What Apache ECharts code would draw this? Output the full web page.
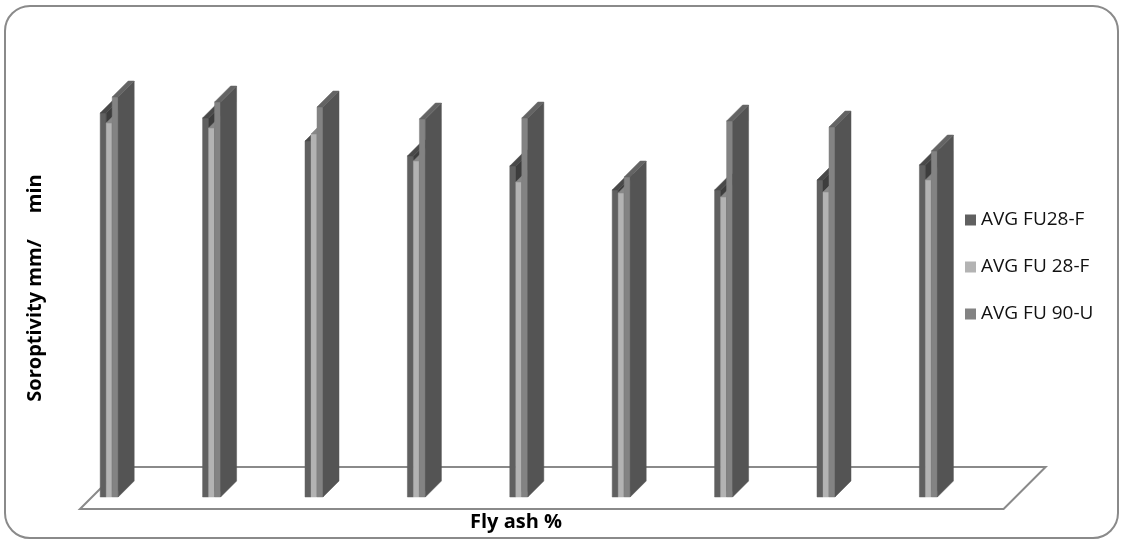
<!DOCTYPE html>
<html>
<head>
<meta charset="utf-8">
<script src="https://cdn.jsdelivr.net/npm/echarts@6/dist/echarts.min.js"></script>
<style>
html,body{margin:0;padding:0;background:#fff;}
#chart{width:1121px;height:543px;}
</style>
</head>
<body>
<div id="chart"></div>
<script>
// 粉煤灰掺量分组（图中无刻度标签）
var categories = ['M1','M2','M3','M4','M5','M6','M7','M8','M9']
var seriesNames = ['AVG FU28-F','AVG FU 28-F','AVG FU 90-U']
var fu28f  = [3.84, 3.79, 3.56, 3.41, 3.31, 3.07, 3.07, 3.17, 3.32]
var fu28f2 = [3.74, 3.69, 3.63, 3.36, 3.15, 3.04, 3.00, 3.05, 3.17]
var fu90u  = [4.00, 3.95, 3.90, 3.78, 3.79, 3.20, 3.76, 3.70, 3.46]
var colors = ['#606060','#b3b3b3','#838383']

var D = 16      // 柱子进深
var W = 6       // 单根柱宽
var font = '"Open Sans", "Noto Sans", sans-serif'

function shade(hex, k){
	var n = parseInt(hex.slice(1),16)
	var r = Math.round((n>>16 & 255)*k), g = Math.round((n>>8 & 255)*k), b = Math.round((n & 255)*k)
	return 'rgb('+r+','+g+','+b+')'
}

function bar3d(idx){
	return function(params, api){
		var base = api.coord([api.value(0), 0])
		var top = api.coord([api.value(0), api.value(1)])
		var x0 = base[0] - 9 + idx*W, x1 = x0 + W
		var yb = base[1], yt = top[1]
		var c = colors[idx]
		return {
			type: 'group',
			children: [
				{type:'polygon', shape:{points:[[x0,yb],[x1,yb],[x1,yt],[x0,yt]]}, style:{fill:c, stroke:c, lineWidth:0.5}},
				{type:'polygon', shape:{points:[[x1,yb],[x1+D,yb-D],[x1+D,yt-D],[x1,yt]]}, style:{fill:shade(c,0.64), stroke:shade(c,0.64), lineWidth:0.5}},
				{type:'polygon', shape:{points:[[x0,yt],[x1,yt],[x1+D,yt-D],[x0+D,yt-D]]}, style:{fill:shade(c,0.76), stroke:shade(c,0.76), lineWidth:0.5}}
			]
		}
	}
}

function toData(arr){
	return arr.map(function(v,i){ return [i, v] })
}

function floor(params, api){ // 底面平行四边形
	var cs = params.coordSys
	var yb = cs.y + cs.height
	var l = cs.x, r = cs.x + cs.width
	return {
		type: 'polygon',
		shape: {points: [[l+22, yb+12],[l+64, yb-30],[r+66, yb-30],[r+24, yb+12]]},
		style: {fill:'#fff', stroke:'#8a8a8a', lineWidth:2}
	}
}

var series = [{
	name: 'floor',
	type: 'custom',
	renderItem: floor,
	data: [[0,0]],
	silent: true,
	z: 1
}]
;[fu28f, fu28f2, fu90u].forEach(function(arr, idx){
	series.push({
		name: seriesNames[idx],
		type: 'custom',
		renderItem: bar3d(idx),
		itemStyle: {color: colors[idx]},
		encode: {x:0, y:1},
		data: toData(arr),
		z: 2
	})
})

var option = {
	animation: false,
	backgroundColor: '#fff',
	grid: {left: 58, width: 921.6, top: 47, height: 450},
	xAxis: {
		type: 'category',
		data: categories,
		show: false
	},
	yAxis: {
		type: 'value',
		min: 0,
		max: 4.5,
		show: false
	},
	legend: {
		data: seriesNames,
		orient: 'vertical',
		left: 960,
		top: 205,
		icon: 'rect',
		itemWidth: 11,
		itemHeight: 11,
		itemGap: 27,
		selectedMode: false,
		textStyle: {fontFamily: font, fontSize: 19, color: '#111', lineHeight: 20}
	},
	graphic: [
		{
			type: 'rect',
			shape: {x:5, y:6, width:1113, height:532, r:25},
			style: {fill:'none', stroke:'#8a8a8a', lineWidth:2},
			z: 0
		},
		{
			type: 'text',
			x: 516, y: 522,
			style: {text:'Fly ash %', font:'bold 20px '+font, fill:'#000', align:'center', verticalAlign:'middle'}
		},
		{
			type: 'text',
			x: 35, y: 288,
			rotation: Math.PI/2,
			style: {text:'Soroptivity mm/     min', font:'bold 20px '+font, fill:'#000', align:'center', verticalAlign:'middle'}
		}
	],
	series: series
}

var myChart = echarts.init(document.getElementById('chart'))
myChart.setOption(option)
</script>
</body>
</html>
